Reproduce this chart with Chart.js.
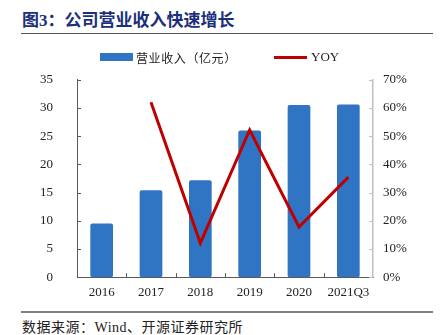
<!DOCTYPE html>
<html>
<head>
<meta charset="utf-8">
<script src="https://cdn.jsdelivr.net/npm/chart.js@4/dist/chart.umd.min.js"></script>
<style>
    html, body { margin: 0; padding: 0; background: #fff; }
    body { width: 442px; height: 335px; position: relative; overflow: hidden; font-family: "Liberation Serif", "Noto Sans CJK SC", serif; }
    #title { position: absolute; left: 22px; top: 6px; font-size: 17px; font-weight: bold; color: #1b2f7a; white-space: nowrap; font-family: "Liberation Serif", "Noto Sans CJK SC", serif; }
    #title-rule { position: absolute; left: 21px; top: 33px; width: 412px; height: 1px; background: #555; }
    #legend { position: absolute; top: 49px; left: 0; width: 442px; height: 16px; font-size: 12px; color: #222; }
    .swatch-bar { position: absolute; left: 100px; top: 4px; width: 33px; height: 8px; background: #3074c4; }
    .swatch-line { position: absolute; left: 274px; top: 7px; width: 33px; height: 3px; background: #c00000; }
    .lbl { position: absolute; top: 0; white-space: nowrap; }
    #chart-box { position: absolute; left: 0; top: 48px; width: 442px; height: 261px; }
    #footer-rule { position: absolute; left: 21px; top: 311px; width: 412px; height: 2px; background: #808080; }
    #footer { position: absolute; left: 22px; top: 316px; font-size: 14px; letter-spacing: 0.5px; color: #222; white-space: nowrap; }
</style>
</head>
<body>
<div id="title">图3：公司营业收入快速增长</div>
<div id="title-rule"></div>
<div id="chart-box"><canvas id="revenue-chart"></canvas></div>
<div id="legend">
    <div class="swatch-bar"></div>
    <div class="lbl" style="left:136px; letter-spacing:0.6px;">营业收入（亿元）</div>
    <div class="swatch-line"></div>
    <div class="lbl" style="left:311px; font-size:13px;">YOY</div>
</div>
<div id="footer-rule"></div>
<div id="footer">数据来源：Wind、开源证券研究所</div>

<script>
// Revenue (100m CNY) and year-on-year growth (%)
const periods = ['2016', '2017', '2018', '2019', '2020', '2021Q3'];
const revenue = [9.5, 15.4, 17.2, 26.0, 30.55, 30.6];
const yoy = [null, 62.0, 12.1, 52.2, 17.8, 35.5];
const revenueTicks = [0, 5, 10, 15, 20, 25, 30, 35];
const yoyTicks = [0, 10, 20, 30, 40, 50, 60, 70];

const colors = {
    bar: '#3074c4',
    line: '#c00000',
    axisDark: '#595959',
    axisLight: '#bfbfbf',
    text: '#222'
};

const tickFont = { family: '"Liberation Serif", "Times New Roman", serif', size: 13 };

// Small inward tick marks on all three axes
const inwardTicks = {
    id: 'inwardTicks',
    afterDraw(chart) {
        const ctx = chart.ctx;
        const area = chart.chartArea;
        const y = chart.scales.y;
        const y1 = chart.scales.y1;
        ctx.save();
        ctx.lineWidth = 1;

        ctx.strokeStyle = colors.axisDark;
        revenueTicks.forEach(v => {
            const py = Math.round(y.getPixelForValue(v)) + 0.5;
            ctx.beginPath();
            ctx.moveTo(area.left, py);
            ctx.lineTo(area.left + 4, py);
            ctx.stroke();
        });

        ctx.strokeStyle = colors.axisLight;
        yoyTicks.forEach(v => {
            const py = Math.round(y1.getPixelForValue(v)) + 0.5;
            ctx.beginPath();
            ctx.moveTo(area.right, py);
            ctx.lineTo(area.right - 4, py);
            ctx.stroke();
        });

        ctx.strokeStyle = colors.axisDark;
        const step = (area.right - area.left) / periods.length;
        for (let i = 1; i < periods.length; i++) {
            const px = Math.round(area.left + i * step) + 0.5;
            ctx.beginPath();
            ctx.moveTo(px, area.bottom);
            ctx.lineTo(px, area.bottom - 4);
            ctx.stroke();
        }
        ctx.restore();
    }
};

const ctx = document.getElementById('revenue-chart');
new Chart(ctx, {
    data: {
        labels: periods,
        datasets: [{
            type: 'line',
            label: 'YOY',
            data: yoy,
            yAxisID: 'y1',
            borderColor: colors.line,
            borderWidth: 3,
            pointRadius: 0,
            tension: 0,
            order: 0
        }, {
            type: 'bar',
            label: '营业收入（亿元）',
            data: revenue,
            yAxisID: 'y',
            backgroundColor: colors.bar,
            borderRadius: 2,
            borderSkipped: false,
            categoryPercentage: 1,
            barPercentage: 0.46,
            order: 1
        }]
    },
    options: {
        responsive: true,
        maintainAspectRatio: false,
        animation: false,
        layout: { padding: { top: 15, left: 0, right: 0, bottom: 0 } },
        plugins: {
            legend: { display: false },
            tooltip: { enabled: false }
        },
        scales: {
            x: {
                offset: true,
                grid: { display: false, drawTicks: false },
                border: { color: colors.axisDark, width: 1 },
                ticks: { color: colors.text, font: tickFont, padding: 8, maxRotation: 0 },
                afterFit(scale) { scale.height = 28; }
            },
            y: {
                position: 'left',
                min: 0,
                max: 35,
                afterBuildTicks(scale) { scale.ticks = revenueTicks.map(v => ({ value: v })); },
                grid: { display: false, drawTicks: false },
                border: { color: colors.axisDark, width: 1 },
                ticks: { color: colors.text, font: tickFont, padding: 24 },
                afterFit(scale) { scale.width = 77; }
            },
            y1: {
                position: 'right',
                min: 0,
                max: 70,
                afterBuildTicks(scale) { scale.ticks = yoyTicks.map(v => ({ value: v })); },
                grid: { display: false, drawTicks: false },
                border: { color: colors.axisLight, width: 1.5 },
                ticks: {
                    color: colors.text,
                    font: tickFont,
                    padding: 10,
                    callback: v => v + '%'
                },
                afterFit(scale) { scale.width = 69; }
            }
        }
    },
    plugins: [inwardTicks]
});
</script>
</body>
</html>
